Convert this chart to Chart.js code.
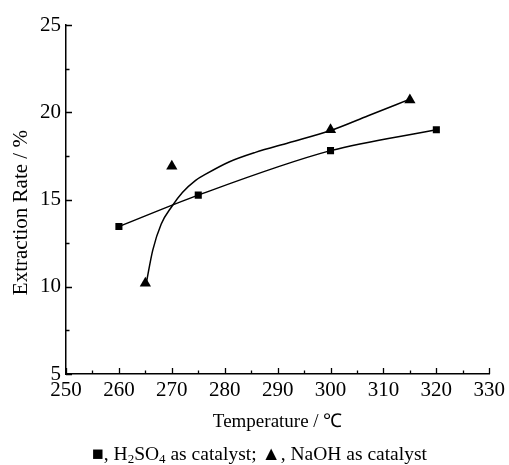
<!DOCTYPE html>
<html>
<head>
<meta charset="utf-8">
<script src="https://cdn.jsdelivr.net/npm/chart.js@4/dist/chart.umd.min.js"></script>
<style>
  html, body { margin: 0; padding: 0; background: #fff; }
  #wrap { position: relative; width: 509px; height: 465px; }
  #legend { position: absolute; left: 0; width: 509px; top: 443px; text-align: center;
            font-family: "Liberation Serif", "Times New Roman", serif; font-size: 19.5px; color: #000; line-height: 22px; padding-left: 10px; box-sizing: border-box; }
  #legend sub { font-size: 13px; vertical-align: -3px; line-height: 0; }
</style>
</head>
<body>
<div id="wrap">
  <canvas id="c" width="509" height="465"></canvas>
  <div id="legend">■, H<sub>2</sub>SO<sub>4</sub> as catalyst; ▲, NaOH as catalyst</div>
</div>
<script>
// Data
const h2so4Temp = [260, 275, 300, 320];
const h2so4Rate = [13.45, 15.25, 17.8, 19.0];

const naohTemp = [265, 270, 300, 315];
const naohRate = [10.2, 16.9, 19.0, 20.7];

// Fitted curve for NaOH
const naohFitTemp = [265.2, 266.4, 268, 270, 272, 274.5, 276.4, 280.8, 285.8, 292.1, 300, 307.1, 315];
const naohFitRate = [10.25, 12.1, 13.6, 14.6, 15.4, 16.1, 16.45, 17.15, 17.7, 18.25, 18.95, 19.8, 20.75];

const xTicks = [250, 260, 270, 280, 290, 300, 310, 320, 330];
const yTicks = [5, 10, 15, 20, 25];

const toXY = (xs, ys) => xs.map((x, i) => ({ x: x, y: ys[i] }));

const FONT = '"Liberation Serif", "Times New Roman", serif';

const inwardTicks = {
  id: 'inwardTicks',
  afterDraw(chart) {
    const ctx = chart.ctx;
    const xs = chart.scales.x, ys = chart.scales.y;
    const area = chart.chartArea;
    ctx.save();
    ctx.strokeStyle = '#000';
    ctx.lineWidth = 1.3;
    ctx.beginPath();
    xs.ticks.forEach(t => {
      const px = Math.round(xs.getPixelForValue(t.value)) + 0.5;
      const major = xTicks.includes(t.value);
      const len = major ? 6 : 3.5;
      ctx.moveTo(px, area.bottom);
      ctx.lineTo(px, area.bottom - len);
    });
    ys.ticks.forEach(t => {
      const py = Math.round(ys.getPixelForValue(t.value)) + 0.5;
      const major = yTicks.includes(t.value);
      const len = major ? 6 : 3.5;
      ctx.moveTo(area.left, py);
      ctx.lineTo(area.left + len, py);
    });
    ctx.stroke();
    ctx.restore();
  }
};

new Chart(document.getElementById('c'), {
  type: 'scatter',
  data: {
    datasets: [
      {
        label: 'H2SO4 as catalyst',
        data: toXY(h2so4Temp, h2so4Rate),
        showLine: true,
        borderColor: '#000',
        backgroundColor: '#000',
        borderWidth: 1.5,
        pointStyle: 'rect',
        pointRadius: 5,
        pointBorderWidth: 0,
        cubicInterpolationMode: 'monotone',
        tension: 0.4
      },
      {
        label: 'NaOH as catalyst',
        data: toXY(naohTemp, naohRate),
        showLine: false,
        borderColor: '#000',
        backgroundColor: '#000',
        pointStyle: 'triangle',
        pointRadius: 6.5,
        pointBorderWidth: 0
      },
      {
        label: 'NaOH fit',
        data: toXY(naohFitTemp, naohFitRate),
        showLine: true,
        borderColor: '#000',
        borderWidth: 1.5,
        pointRadius: 0,
        cubicInterpolationMode: 'monotone',
        tension: 0.4
      }
    ]
  },
  options: {
    responsive: false,
    animation: false,
    events: [],
    layout: { padding: { top: 25, right: 17, left: 0, bottom: 30 } },
    plugins: { legend: { display: false }, tooltip: { enabled: false } },
    scales: {
      x: {
        type: 'linear',
        min: 250, max: 330,
        afterFit(scale) { scale.height = 61; },
        grid: { display: true, drawOnChartArea: false, drawTicks: false },
        border: { display: true, color: '#000', width: 1.5 },
        ticks: {
          stepSize: 5,
          autoSkip: false,
          maxRotation: 0,
          padding: 4,
          color: '#000',
          font: { family: FONT, size: 21 },
          callback: v => xTicks.includes(v) ? String(v) : ''
        },
        title: {
          display: true,
          text: 'Temperature / ℃',
          color: '#000',
          font: { family: FONT, size: 19 },
          padding: { top: 2, bottom: 2 }
        }
      },
      y: {
        type: 'linear',
        min: 5, max: 25,
        afterFit(scale) { scale.width = 66; },
        grid: { display: true, drawOnChartArea: false, drawTicks: false },
        border: { display: true, color: '#000', width: 1.5 },
        ticks: {
          stepSize: 2.5,
          autoSkip: false,
          padding: 5,
          color: '#000',
          font: { family: FONT, size: 21 },
          callback: v => yTicks.includes(v) ? String(v) : ''
        },
        title: {
          display: true,
          text: 'Extraction Rate / %     ',
          color: '#000',
          font: { family: FONT, size: 21 },
          padding: { top: 9, bottom: 0 }
        }
      }
    }
  },
  plugins: [inwardTicks]
});
</script>
</body>
</html>
